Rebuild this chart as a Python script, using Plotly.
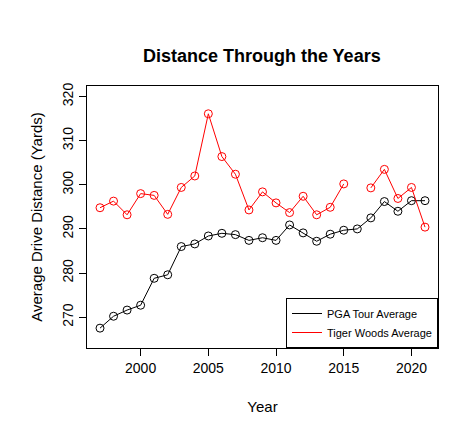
import plotly.graph_objects as go

years = list(range(1997, 2022))
pga_avg = [267.5, 270.2, 271.6, 272.7, 278.8, 279.6, 286.0, 286.6, 288.4, 289.0, 288.7, 287.4,
           288.0, 287.4, 290.9, 289.1, 287.2, 288.8, 289.7, 290.0, 292.5, 296.2, 294.0, 296.4, 296.4]
tiger_avg = [294.8, 296.3, 293.2, 298.0, 297.6, 293.3, 299.4, 302.0, 316.1, 306.4, 302.4, 294.3,
             298.4, 295.9, 293.7, 297.4, 293.2, 294.9, 300.2, None, 299.3, 303.5, 296.9, 299.4, 290.4]

font = dict(family="Liberation Sans, Arial, sans-serif", size=14, color="black")
fig = go.Figure()
for name, vals, col in [("PGA Tour Average", pga_avg, "black"), ("Tiger Woods Average", tiger_avg, "red")]:
    fig.add_trace(go.Scatter(x=years, y=vals, mode="lines+markers", showlegend=False,
                             connectgaps=False, line=dict(color=col, width=1),
                             marker=dict(symbol="circle-open", size=8, color=col, line=dict(width=1))))
    # legend entry drawn as a plain line, as in the original
    fig.add_trace(go.Scatter(x=[None], y=[None], mode="lines", name=name, line=dict(color=col, width=1)))

fig.update_layout(
    width=470, height=439, plot_bgcolor="white", paper_bgcolor="white", font=font,
    margin=dict(l=79, r=40, t=78, b=99),
    title=dict(text="<b>Distance Through the Years</b>", x=0.54, xanchor="center", y=0.905,
               font=dict(size=18, family=font["family"])),
    xaxis=dict(range=[1996.04, 2021.96], tickvals=[2000, 2005, 2010, 2015, 2020],
               showline=True, linecolor="black", mirror=True, showgrid=False, zeroline=False,
               ticks="outside", ticklen=7, tickcolor="black", automargin=False,
               title=dict(text="Year", standoff=26, font=dict(size=15))),
    yaxis=dict(range=[263, 322.4], tickvals=[270, 280, 290, 300, 310, 320], tickangle=-90,
               showline=True, linecolor="black", mirror=True, showgrid=False, zeroline=False,
               ticks="outside", ticklen=7, tickcolor="black", automargin=False,
               title=dict(text="Average Drive Distance (Yards)", standoff=14, font=dict(size=15))),
    legend=dict(x=1, y=0, xanchor="right", yanchor="bottom", bordercolor="black", borderwidth=1,
                bgcolor="white", font=dict(size=11), itemwidth=30, tracegroupgap=0),
)
fig.write_html("out.html")
